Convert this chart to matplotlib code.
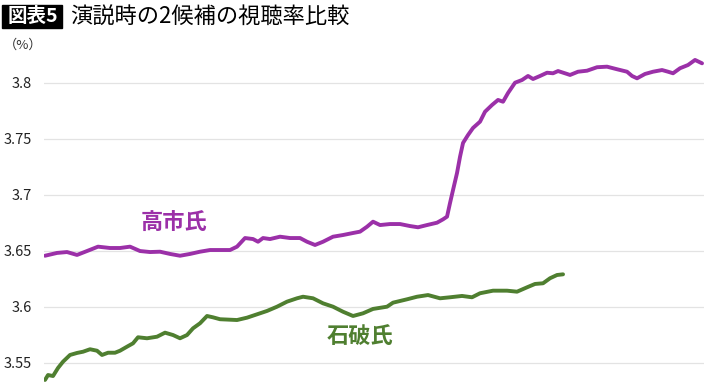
import matplotlib
matplotlib.use('Agg')
import matplotlib.pyplot as plt
from matplotlib.patches import Rectangle

plt.rcParams['font.family'] = ['Noto Sans CJK JP', 'DejaVu Sans']

# 経過時間（任意単位）と視聴率（%）
takaichi_t = [1, 13, 23, 33, 43, 54, 66, 76, 86, 96, 106, 116, 126, 136, 146, 156,
              166, 176, 186, 193, 201, 209, 214, 219, 226, 236, 246, 256, 263, 271,
              279, 289, 299, 309, 316, 323, 329, 336, 346, 356, 366, 374, 383, 393,
              399, 403, 406, 409, 413, 416, 419, 424, 429, 436, 441, 448, 454, 459,
              464, 471, 478, 484, 489, 496, 503, 509, 514, 523, 526, 534, 543, 553,
              563, 573, 583, 588, 593, 601, 609, 618, 624, 629, 636, 644, 651, 658]
takaichi_v = [3.6455, 3.6480, 3.6488, 3.6462, 3.6497, 3.6536, 3.6524, 3.6524, 3.6536,
              3.6497, 3.6488, 3.6491, 3.6471, 3.6455, 3.6471, 3.6491, 3.6506, 3.6506,
              3.6506, 3.6536, 3.6613, 3.6604, 3.6580, 3.6613, 3.6604, 3.6625, 3.6613,
              3.6613, 3.6580, 3.6551, 3.6580, 3.6625, 3.6640, 3.6658, 3.6670, 3.6714,
              3.6759, 3.6729, 3.6738, 3.6738, 3.6720, 3.6709, 3.6729, 3.6750, 3.6780,
              3.6804, 3.6926, 3.7042, 3.7194, 3.7339, 3.7462, 3.7533, 3.7596, 3.7652,
              3.7741, 3.7801, 3.7846, 3.7830, 3.7908, 3.8000, 3.8024, 3.8060, 3.8033,
              3.8060, 3.8089, 3.8084, 3.8104, 3.8078, 3.8069, 3.8098, 3.8107, 3.8138,
              3.8143, 3.8120, 3.8098, 3.8060, 3.8039, 3.8078, 3.8098, 3.8113, 3.8098,
              3.8084, 3.8129, 3.8158, 3.8203, 3.8173]

ishiba_t = [1, 4, 9, 14, 19, 26, 33, 39, 46, 53, 58, 64, 71, 76, 83, 89, 94, 103,
            113, 121, 129, 136, 143, 149, 156, 163, 169, 176, 193, 203, 213, 223,
            233, 243, 253, 259, 269, 279, 289, 299, 309, 319, 329, 343, 349, 363,
            373, 384, 396, 406, 418, 428, 436, 449, 463, 473, 483, 491, 499, 506,
            513, 519]
ishiba_v = [3.5346, 3.5390, 3.5381, 3.5453, 3.5509, 3.5569, 3.5587, 3.5598, 3.5620,
            3.5607, 3.5569, 3.5589, 3.5589, 3.5607, 3.5643, 3.5673, 3.5727, 3.5718,
            3.5732, 3.5768, 3.5747, 3.5718, 3.5747, 3.5807, 3.5852, 3.5917, 3.5905,
            3.5888, 3.5881, 3.5902, 3.5932, 3.5962, 3.6000, 3.6045, 3.6075, 3.6089,
            3.6075, 3.6030, 3.6000, 3.5955, 3.5917, 3.5941, 3.5980, 3.6000, 3.6036,
            3.6066, 3.6089, 3.6104, 3.6075, 3.6084, 3.6096, 3.6084, 3.6120, 3.6143,
            3.6143, 3.6134, 3.6173, 3.6203, 3.6209, 3.6254, 3.6283, 3.6289]

y_ticks = [3.55, 3.6, 3.65, 3.7, 3.75, 3.8]
y_labels = ['3.55', '3.6', '3.65', '3.7', '3.75', '3.8']

purple = '#9B30A8'
green = '#4F7F30'

fig = plt.figure(figsize=(7.1, 3.87), dpi=100)
ax = fig.add_axes([0.062, 0.0, 0.9296, 0.850])

ax.plot(takaichi_t, takaichi_v, color=purple, lw=2.8, solid_joinstyle='round', solid_capstyle='round')
ax.plot(ishiba_t, ishiba_v, color=green, lw=2.8, solid_joinstyle='round', solid_capstyle='round')

ax.set_xlim(0, 660)
ax.set_ylim(3.5283, 3.822)
ax.set_yticks(y_ticks)
ax.set_yticklabels(y_labels)
ax.set_xticks([])
ax.tick_params(axis='y', length=0, pad=9, labelsize=10.5, labelcolor='#222222')
ax.grid(axis='y', color='#e3e3e3', lw=0.9)
ax.set_axisbelow(True)
for s in ax.spines.values():
    s.set_visible(False)

# シリーズ名
ax.text(130, 3.6747, '高市氏', color=purple, fontsize=16, fontweight='bold', ha='center', va='center')
ax.text(316, 3.5738, '石破氏', color=green, fontsize=16, fontweight='bold', ha='center', va='center')

# タイトル
fig.patches.append(Rectangle((0.003, 1 - 28 / 387), 60 / 710, 23 / 387,
                             transform=fig.transFigure, color='black', zorder=0))
fig.text(0.046, 1 - 16.5 / 387, '図表5', color='white', fontsize=14, fontweight='bold',
         ha='center', va='center')
fig.text(70 / 710, 1 - 16 / 387, '演説時の2候補の視聴率比較', color='black', fontsize=16,
         ha='left', va='center')
fig.text(4 / 710, 1 - 45 / 387, '（%）', color='#333333', fontsize=9.5, ha='left', va='center')

plt.savefig('out.png', dpi=100)
